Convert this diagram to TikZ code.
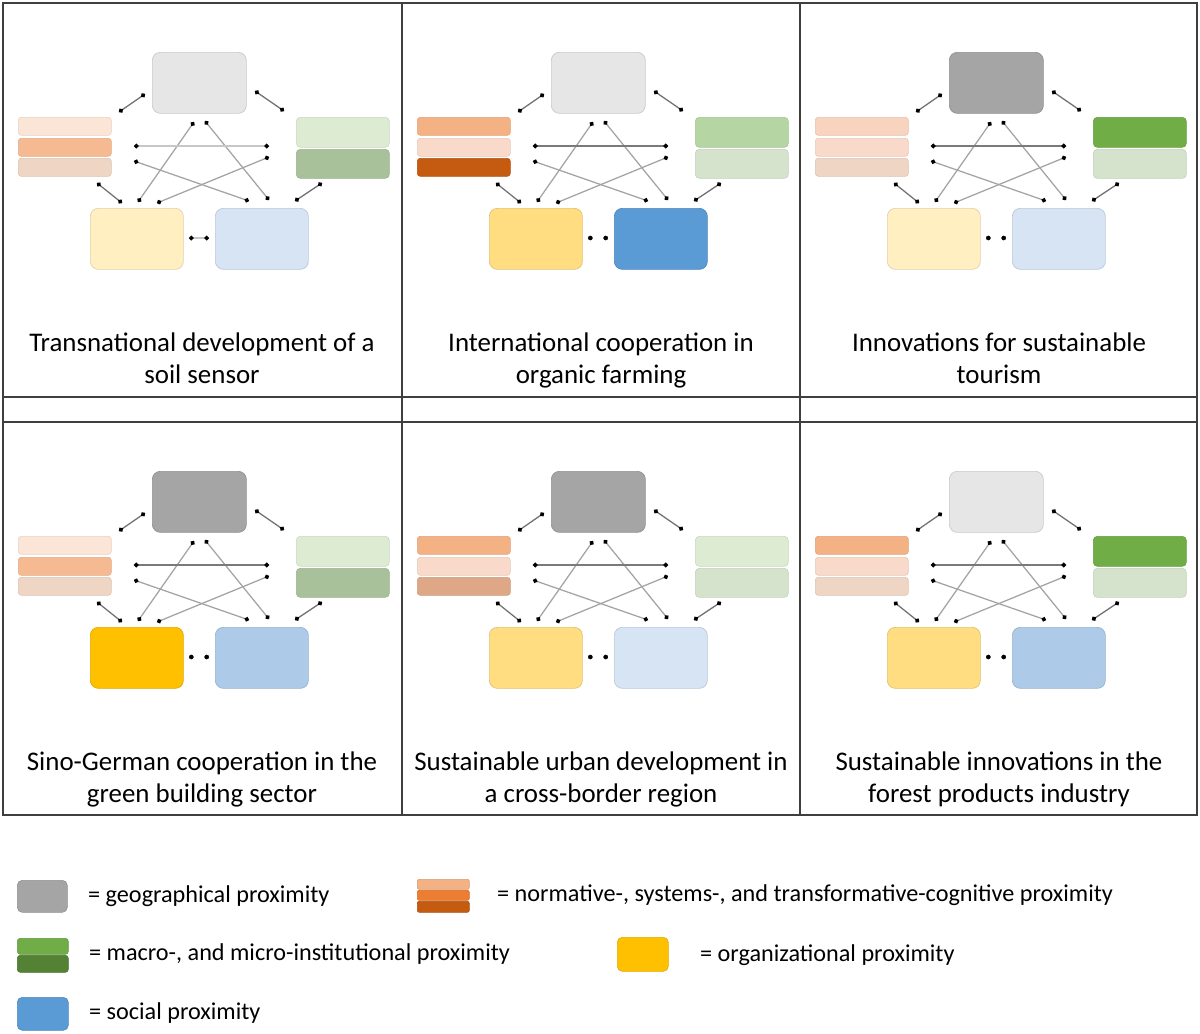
\documentclass[tikz,border=0pt]{standalone}
\usepackage{fontspec}
\setmainfont{Carlito}
\usetikzlibrary{arrows.meta}
\definecolor{geoL}{HTML}{E6E6E6}
\definecolor{geoD}{HTML}{A5A5A5}
\definecolor{oVL}{HTML}{FBE5D6}
\definecolor{oM}{HTML}{F4B183}
\definecolor{oM1}{HTML}{F5BA92}
\definecolor{oL}{HTML}{F9DACA}
\definecolor{oL2}{HTML}{F8D3BD}
\definecolor{oT}{HTML}{EFD5C4}
\definecolor{oB}{HTML}{DEA886}
\definecolor{oD}{HTML}{C55A11}
\definecolor{gVL}{HTML}{DDEBD2}
\definecolor{gD}{HTML}{A9C19A}
\definecolor{gM}{HTML}{B5D5A3}
\definecolor{gL}{HTML}{D5E3CC}
\definecolor{gS}{HTML}{70AD47}
\definecolor{yL}{HTML}{FFEFC1}
\definecolor{yM}{HTML}{FFDD80}
\definecolor{yS}{HTML}{FFC000}
\definecolor{bL}{HTML}{D6E4F3}
\definecolor{bM}{HTML}{ADCBE9}
\definecolor{bS}{HTML}{5B9BD5}
\definecolor{lgO1}{HTML}{F4B183}
\definecolor{lgO2}{HTML}{ED7D31}
\definecolor{lgO3}{HTML}{C55A11}
\definecolor{lgG1}{HTML}{70AD47}
\definecolor{lgG2}{HTML}{548235}
\definecolor{rule}{HTML}{3F3F3F}
\tikzset{
  x=1bp, y=-1bp,
  bigbox/.style={fill=#1, draw=#1!88!black, line width=0.7bp, rounded corners=8bp,
    inner sep=0pt, anchor=north west, minimum width=93bp, minimum height=61bp},
  barbox/.style={fill=#1, draw=#1!92!black, line width=0.6bp, rounded corners=3bp,
    inner sep=0pt, anchor=north west, minimum width=93bp},
  dotends/.style={{Circle[color=black,length=4.6bp]}-{Circle[color=black,length=4.6bp]}},
  sidelink/.style={dotends, draw=black!55, line width=1.3bp},
  crosslink/.style={dotends, draw=black!36, line width=1.25bp},
  title/.style={align=center, font=\fontsize{27}{32}\selectfont, inner sep=0pt},
  legtext/.style={anchor=west, font=\fontsize{24.3}{28}\selectfont, inner sep=0pt},
  legbox/.style={fill=#1, draw=#1!88!black, line width=0.6bp, rounded corners=5bp,
    inner sep=0pt, anchor=north west},
}
% #1 x offset, #2 y offset, #3 prefix, #4 title line 1, #5 title line 2
\newcommand\proxpanel[5]{%
\begin{scope}[shift={(#1,#2)}, name prefix=#3-]
  \node[bigbox=cGeo, minimum width=94bp] (geo) at (152,52) {};
  \node[barbox=cO1, minimum height=18bp] (o1) at (18,117) {};
  \node[barbox=cO2, minimum height=18bp] (o2) at (18,138) {};
  \node[barbox=cO3, minimum height=18bp] (o3) at (18,158) {};
  \node[barbox=cG1, minimum height=30bp, rounded corners=4bp] (g1) at (296,117) {};
  \node[barbox=cG2, minimum height=29bp, rounded corners=4bp] (g2) at (296,149) {};
  \node[bigbox=cOrg] (org) at (90,208) {};
  \node[bigbox=cSoc] (soc) at (215,208) {};
  \coordinate (a1) at (145,94);  \coordinate (a2) at (119,112);
  \coordinate (b1) at (255,91);  \coordinate (b2) at (284,111);
  \coordinate (c1) at (97,183);  \coordinate (c2) at (122,203);
  \coordinate (d1) at (322,183); \coordinate (d2) at (295,201);
  \coordinate (e1) at (134,146); \coordinate (e2) at (269,146);
  \coordinate (f1) at (134,161); \coordinate (f2) at (249,201);
  \coordinate (h1) at (269,157); \coordinate (h2) at (157,203);
  \coordinate (i1) at (194,122); \coordinate (i2) at (138,202);
  \coordinate (j1) at (205,121); \coordinate (j2) at (269,200);
  \coordinate (k1) at (189,238); \coordinate (k2) at (209,238);
  \draw[sidelink] (a1) -- (a2);
  \draw[sidelink] (b1) -- (b2);
  \draw[sidelink] (c1) -- (c2);
  \draw[sidelink] (d1) -- (d2);
  \draw[crosslink] (f1) -- (f2);
  \draw[crosslink] (h1) -- (h2);
  \draw[crosslink] (i1) -- (i2);
  \draw[crosslink] (j1) -- (j2);
  \draw[midlink] (e1) -- (e2);
  \draw[botlink] (k1) -- (k2);
  \node[title] (title) at (202,361) {\strut #4\\\strut #5};
\end{scope}}
\begin{document}
\begin{tikzpicture}
\path[use as bounding box, fill=white] (0,0) rectangle (1200,1034);
% table
\draw[rule, line width=1.7bp] (3,3) rectangle (1197,815);
\draw[rule, line width=1.7bp] (3,397) -- (1197,397);
\draw[rule, line width=1.7bp] (3,422) -- (1197,422);
\draw[rule, line width=1.7bp] (402,3) -- (402,815);
\draw[rule, line width=1.7bp] (800,3) -- (800,815);
% panel 1
\colorlet{cGeo}{geoL}\colorlet{cO1}{oVL}\colorlet{cO2}{oM1}\colorlet{cO3}{oT}
\colorlet{cG1}{gVL}\colorlet{cG2}{gD}\colorlet{cOrg}{yL}\colorlet{cSoc}{bL}
\tikzset{midlink/.style={dotends, draw=black!22, line width=1.2bp},
         botlink/.style={dotends, draw=black!22, line width=1.2bp}}
\proxpanel{0}{0}{p1}{Transnational development of a}{soil sensor}
% remaining panels: darker middle link, no visible bottom link
\tikzset{midlink/.style={dotends, draw=black!52, line width=1.8bp},
         botlink/.style={dotends, draw=white, line width=0.5bp}}
% panel 2
\colorlet{cGeo}{geoL}\colorlet{cO1}{oM}\colorlet{cO2}{oL}\colorlet{cO3}{oD}
\colorlet{cG1}{gM}\colorlet{cG2}{gL}\colorlet{cOrg}{yM}\colorlet{cSoc}{bS}
\proxpanel{399}{0}{p2}{International cooperation in}{organic farming}
% panel 3
\colorlet{cGeo}{geoD}\colorlet{cO1}{oL2}\colorlet{cO2}{oL}\colorlet{cO3}{oT}
\colorlet{cG1}{gS}\colorlet{cG2}{gL}\colorlet{cOrg}{yL}\colorlet{cSoc}{bL}
\proxpanel{797}{0}{p3}{Innovations for sustainable}{tourism}
% panel 4
\colorlet{cGeo}{geoD}\colorlet{cO1}{oVL}\colorlet{cO2}{oM1}\colorlet{cO3}{oT}
\colorlet{cG1}{gVL}\colorlet{cG2}{gD}\colorlet{cOrg}{yS}\colorlet{cSoc}{bM}
\proxpanel{0}{419}{p4}{Sino-German cooperation in the}{green building sector}
% panel 5
\colorlet{cGeo}{geoD}\colorlet{cO1}{oM}\colorlet{cO2}{oL}\colorlet{cO3}{oB}
\colorlet{cG1}{gVL}\colorlet{cG2}{gL}\colorlet{cOrg}{yM}\colorlet{cSoc}{bL}
\proxpanel{399}{419}{p5}{Sustainable urban development in}{a cross-border region}
% panel 6
\colorlet{cGeo}{geoL}\colorlet{cO1}{oM}\colorlet{cO2}{oL}\colorlet{cO3}{oT}
\colorlet{cG1}{gS}\colorlet{cG2}{gL}\colorlet{cOrg}{yM}\colorlet{cSoc}{bM}
\proxpanel{797}{419}{p6}{Sustainable innovations in the}{forest products industry}
% legend
\node[legbox=geoD, minimum width=50bp, minimum height=32bp] (lgeo) at (17,880) {};
\node[legtext] (lgeoT) at (88,896) {= geographical proximity};
\node[legbox=lgO1, minimum width=52bp, minimum height=10bp, rounded corners=2bp] (lcog1) at (417,879) {};
\node[legbox=lgO2, minimum width=52bp, minimum height=10bp, rounded corners=2bp] (lcog2) at (417,890) {};
\node[legbox=lgO3, minimum width=52bp, minimum height=11bp, rounded corners=2bp] (lcog3) at (417,901) {};
\node[legtext] (lcogT) at (497,895) {= normative-, systems-, and transformative-cognitive proximity};
\node[legbox=lgG1, minimum width=51bp, minimum height=16bp, rounded corners=3bp] (linst1) at (17,938) {};
\node[legbox=lgG2, minimum width=51bp, minimum height=17bp, rounded corners=3bp] (linst2) at (17,955) {};
\node[legtext] (linstT) at (89,954) {= macro-, and micro-institutional proximity};
\node[legbox=yS, minimum width=51bp, minimum height=34bp] (lorg) at (617,937) {};
\node[legtext] (lorgT) at (700,955) {= organizational proximity};
\node[legbox=bS, minimum width=51bp, minimum height=33bp] (lsoc) at (17,997) {};
\node[legtext] (lsocT) at (89,1013) {= social proximity};
\end{tikzpicture}
\end{document}
